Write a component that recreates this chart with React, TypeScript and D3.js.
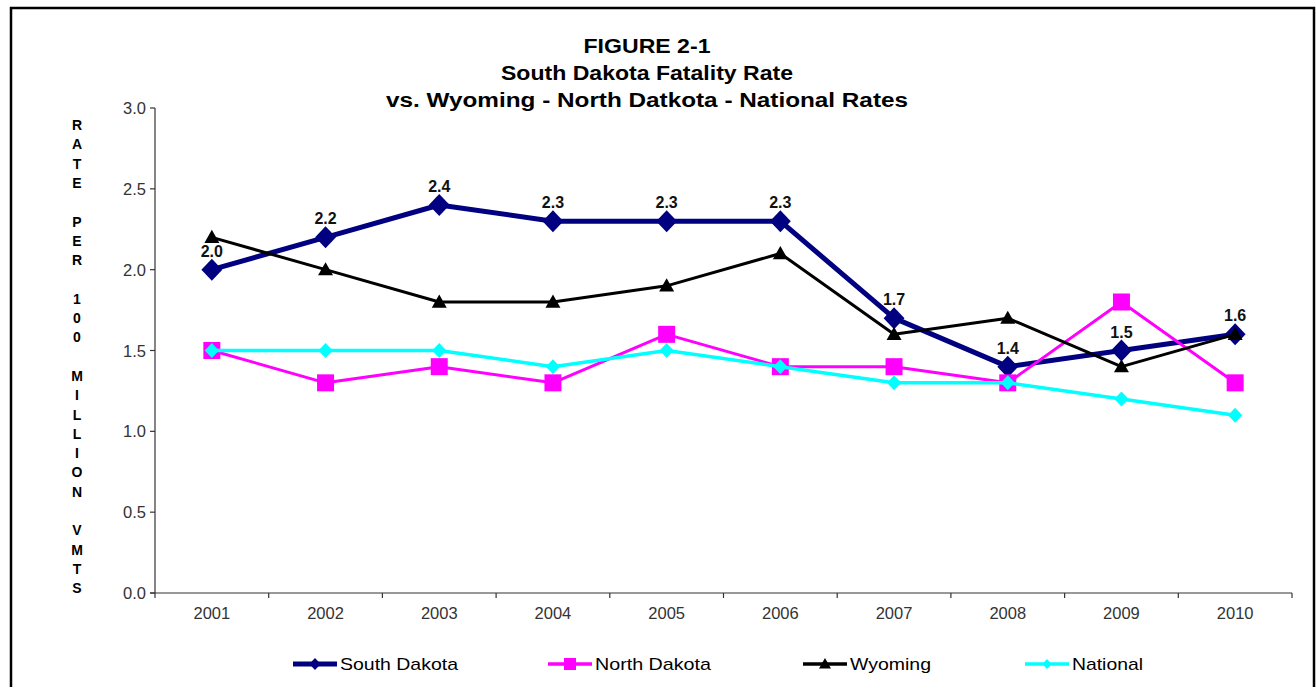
import React from "react";
import * as d3 from "d3";

const years = ["2001", "2002", "2003", "2004", "2005", "2006", "2007", "2008", "2009", "2010"];
const southDakota = [2.0, 2.2, 2.4, 2.3, 2.3, 2.3, 1.7, 1.4, 1.5, 1.6];
const northDakota = [1.5, 1.3, 1.4, 1.3, 1.6, 1.4, 1.4, 1.3, 1.8, 1.3];
const wyoming = [2.2, 2.0, 1.8, 1.8, 1.9, 2.1, 1.6, 1.7, 1.4, 1.6];
const national = [1.5, 1.5, 1.5, 1.4, 1.5, 1.4, 1.3, 1.3, 1.2, 1.1];
const yTicks = [0, 0.5, 1.0, 1.5, 2.0, 2.5, 3.0];
const titleLines = ["FIGURE 2-1", "South Dakota Fatality Rate", "vs. Wyoming  - North Datkota - National Rates"];
const yLabelLines = ["R", "A", "T", "E", "", "P", "E", "R", "", "1", "0", "0", "", "M", "I", "L", "L", "I", "O", "N", "", "V", "M", "T", "S"];

type Shape = "diamond" | "square" | "triangle";
const seriesDefs = [
  { name: "South Dakota", values: southDakota, color: "#000080", width: 5, shape: "diamond" as Shape, size: 11, legendSize: 6, labels: true },
  { name: "North Dakota", values: northDakota, color: "#FF00FF", width: 3, shape: "square" as Shape, size: 8.5, legendSize: 6, labels: false },
  { name: "Wyoming", values: wyoming, color: "#000000", width: 3, shape: "triangle" as Shape, size: 7.5, legendSize: 6, labels: false },
  { name: "National", values: national, color: "#00FFFF", width: 3.5, shape: "diamond" as Shape, size: 7.5, legendSize: 5, labels: false },
];
const legendX = [293, 548, 803, 1025];
const legendTextLen = [118, 116, 81, 71];

function markerPath(shape: Shape, s: number): string {
  const p = d3.path();
  if (shape === "diamond") {
    p.moveTo(0, -s); p.lineTo(s * 0.95, 0); p.lineTo(0, s); p.lineTo(-s * 0.95, 0); p.closePath();
  } else if (shape === "square") {
    p.rect(-s, -s, 2 * s, 2 * s);
  } else {
    p.moveTo(0, -s); p.lineTo(s, s * 0.75); p.lineTo(-s, s * 0.75); p.closePath();
  }
  return p.toString();
}

export default function App() {
  const W = 1316, H = 687;
  const left = 155, right = 1292, top = 108, bottom = 593;
  const x = d3.scaleBand<string>().domain(years).range([left, right]).padding(0);
  const bw = x.bandwidth();
  const cx = (yr: string) => (x(yr) as number) + bw / 2;
  const y = d3.scaleLinear().domain([0, 3]).range([bottom, top]);
  const font = "'Liberation Sans', Arial, sans-serif";

  const line = d3.line<number>().x((_, i) => cx(years[i])).y((v) => y(v));

  return (
    <svg width={W} height={H} style={{ position: "absolute", left: 0, top: 0, background: "#fff" }} fontFamily={font}>
      <rect x={11} y={8} width={1303} height={700} fill="#fff" stroke="#000" strokeWidth={2.5} />
      {titleLines.map((t, i) => (
        <text key={i} x={647} y={53 + i * 27} textAnchor="middle" fontSize={20} fontWeight="bold" fill="#000"
          textLength={i === 0 ? 127 : i === 1 ? 292 : 522} lengthAdjust="spacingAndGlyphs">{t}</text>
      ))}
      {yLabelLines.map((c, i) => c ? (
        <text key={i} x={77} y={125 + i * 19.3 + 5} textAnchor="middle" fontSize={14} fontWeight="bold" fill="#000">{c}</text>
      ) : null)}
      {/* y axis */}
      <line x1={left} x2={left} y1={top} y2={bottom} stroke="#333" strokeWidth={1.2} />
      {yTicks.map((t) => (
        <g key={t}>
          <line x1={left - 5} x2={left} y1={y(t)} y2={y(t)} stroke="#333" strokeWidth={1.2} />
          <text x={146} y={y(t) + 6} textAnchor="end" fontSize={16.5} fill="#333">{t.toFixed(1)}</text>
        </g>
      ))}
      {/* x axis */}
      <line x1={left - 5} x2={right} y1={bottom} y2={bottom} stroke="#333" strokeWidth={1.2} />
      {years.map((yr) => (
        <line key={"t" + yr} x1={x(yr) as number} x2={x(yr) as number} y1={bottom} y2={bottom + 5} stroke="#333" strokeWidth={1.2} />
      ))}
      <line x1={right} x2={right} y1={bottom} y2={bottom + 5} stroke="#333" strokeWidth={1.2} />
      {years.map((yr) => (
        <text key={"l" + yr} x={cx(yr)} y={619} textAnchor="middle" fontSize={16.5} fill="#333">{yr}</text>
      ))}
      {seriesDefs.map((s) => (
        <g key={s.name}>
          <path d={line(s.values) as string} fill="none" stroke={s.color} strokeWidth={s.width} strokeLinejoin="round" />
          {s.values.map((v, i) => (
            <path key={i} d={markerPath(s.shape, s.size)} transform={`translate(${cx(years[i])},${y(v)})`} fill={s.color} />
          ))}
          {s.labels && s.values.map((v, i) => (
            <text key={"lb" + i} x={cx(years[i])} y={y(v) - 13} textAnchor="middle" fontSize={16} fontWeight="bold" fill="#111">{v.toFixed(1)}</text>
          ))}
        </g>
      ))}
      {/* legend */}
      {seriesDefs.map((s, i) => (
        <g key={"lg" + s.name}>
          <line x1={legendX[i]} x2={legendX[i] + 44} y1={664} y2={664} stroke={s.color} strokeWidth={s.width === 5 ? 5 : 3.5} />
          <path d={markerPath(s.shape, s.legendSize)} transform={`translate(${legendX[i] + 22},664)`} fill={s.color} />
          <text x={legendX[i] + 47} y={670} fontSize={17} fill="#000" textLength={legendTextLen[i]} lengthAdjust="spacingAndGlyphs">{s.name}</text>
        </g>
      ))}
    </svg>
  );
}
